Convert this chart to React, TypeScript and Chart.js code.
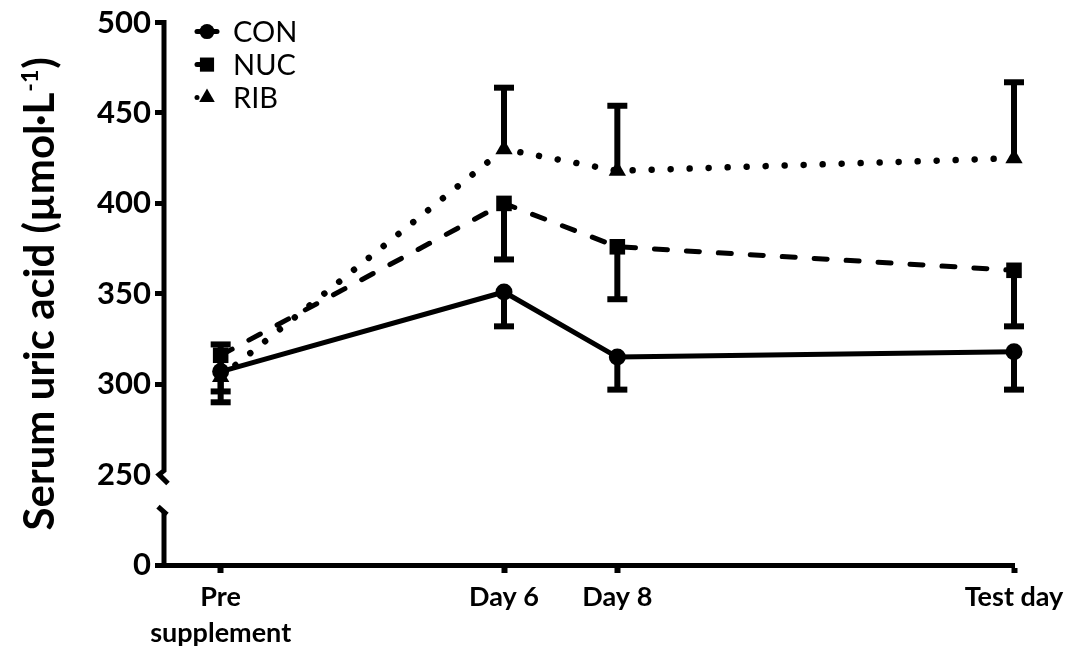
import React, { useEffect, useRef } from 'react';
import { Chart, registerables } from 'chart.js';

Chart.register(...registerables);

// Sampling days (x positions on a day scale) and their axis labels
const days = [1, 6, 8, 15];
const dayLabels: string[][] = [['Pre', 'supplement'], ['Day 6'], ['Day 8'], ['Test day']];

// Serum uric acid, mean and SEM per group
const groupNames = ['CON', 'NUC', 'RIB'];
const conMean = [307, 351, 315, 318];
const conSem = [17, 19, 18, 21];
const nucMean = [316, 400, 376, 363];
const nucSem = [20, 31, 29, 31];
const ribMean = [304, 430, 418, 425];
const ribSem = [18, 34, 36, 42];

// The y axis is broken below 250: the short bottom segment stands for zero
const yTickValues = [200, 250, 300, 350, 400, 450, 500];
const yTickLabels = ['0', '250', '300', '350', '400', '450', '500'];

const yTitleMain = 'Serum uric acid (µmol·L';
const yTitleSup = '-1';
const yTitleEnd = ')';

const FONT = 'Lato, "Open Sans", "DejaVu Sans", sans-serif';

type SeriesStyle = {
  dash: number[];
  legendDash: number[];
  width: number;
  point: 'circle' | 'rect' | 'triangle';
  radius: number;
  legendRadius: number;
  errDir: number;
};

const seriesStyles: SeriesStyle[] = [
  { dash: [], legendDash: [], width: 5, point: 'circle', radius: 8.5, legendRadius: 7.5, errDir: -1 },
  { dash: [13, 19], legendDash: [4, 40], width: 5, point: 'rect', radius: 11, legendRadius: 10, errDir: -1 },
  { dash: [0.01, 19], legendDash: [0.01, 20], width: 6.5, point: 'triangle', radius: 10, legendRadius: 9, errDir: 1 },
];

const means = [conMean, nucMean, ribMean];
const sems = [conSem, nucSem, ribSem];

function drawMarker(ctx: CanvasRenderingContext2D, kind: string, x: number, y: number, r: number) {
  ctx.beginPath();
  if (kind === 'circle') {
    ctx.arc(x, y, r, 0, Math.PI * 2);
  } else if (kind === 'rect') {
    const h = r * Math.SQRT1_2;
    ctx.rect(x - h, y - h, 2 * h, 2 * h);
  } else {
    ctx.moveTo(x, y - r);
    ctx.lineTo(x + r * 0.866, y + r * 0.5);
    ctx.lineTo(x - r * 0.866, y + r * 0.5);
    ctx.closePath();
  }
  ctx.fill();
}

// One-sided SEM bars: RIB upward, CON and NUC downward
const errorBarsPlugin = {
  id: 'errorBars',
  beforeDatasetsDraw(chart: any) {
    const { ctx } = chart;
    const xs = chart.scales.x;
    const ys = chart.scales.y;
    ctx.save();
    ctx.strokeStyle = '#000';
    ctx.lineCap = 'butt';
    means.forEach((m, i) => {
      const dir = seriesStyles[i].errDir;
      m.forEach((v, j) => {
        const px = xs.getPixelForValue(days[j]);
        const y0 = ys.getPixelForValue(v);
        const y1 = ys.getPixelForValue(v + dir * sems[i][j]);
        ctx.lineWidth = 6;
        ctx.beginPath();
        ctx.moveTo(px, y0);
        ctx.lineTo(px, y1);
        ctx.stroke();
        ctx.beginPath();
        ctx.moveTo(px - 10, y1);
        ctx.lineTo(px + 10, y1);
        ctx.stroke();
      });
    });
    ctx.restore();
  },
};

// Broken y axis line, in-plot legend and the rotated axis title
const decorPlugin = {
  id: 'decor',
  afterDraw(chart: any) {
    const { ctx, chartArea } = chart;
    const ys = chart.scales.y;
    const ax = chartArea.left;
    const yTop = ys.getPixelForValue(500);
    const yBreak = ys.getPixelForValue(250);
    const yZero = ys.getPixelForValue(200);

    ctx.save();
    ctx.strokeStyle = '#000';
    ctx.lineWidth = 5;
    ctx.lineJoin = 'miter';
    ctx.lineCap = 'butt';
    // upper segment ending in a break hook
    ctx.beginPath();
    ctx.moveTo(ax, yTop - 2.5);
    ctx.lineTo(ax, yBreak - 4);
    ctx.lineTo(ax - 5, yBreak);
    ctx.lineTo(ax + 4, yBreak + 9);
    ctx.stroke();
    // lower segment starting with its hook
    ctx.beginPath();
    ctx.moveTo(ax - 6, yBreak + 32);
    ctx.lineTo(ax + 3, yBreak + 40);
    ctx.stroke();
    ctx.beginPath();
    ctx.moveTo(ax, yBreak + 37);
    ctx.lineTo(ax, yZero + 2.5);
    ctx.stroke();

    // legend
    ctx.fillStyle = '#000';
    ctx.font = `29px ${FONT}`;
    ctx.textBaseline = 'middle';
    ctx.textAlign = 'left';
    groupNames.forEach((name, i) => {
      const st = seriesStyles[i];
      const cy = chartArea.top + 9 + i * 33;
      const mx = ax + 43;
      ctx.save();
      ctx.lineWidth = 5;
      ctx.lineCap = 'round';
      ctx.setLineDash(st.legendDash);
      ctx.beginPath();
      ctx.moveTo(mx - 10, cy);
      ctx.lineTo(mx + 10, cy);
      ctx.stroke();
      ctx.restore();
      drawMarker(ctx, st.point, mx, cy, st.legendRadius);
      ctx.fillText(name, ax + 69, cy + 1);
    });

    // y axis title with superscript
    const cy = (chartArea.top + chartArea.bottom) / 2;
    ctx.translate(54, cy);
    ctx.rotate(-Math.PI / 2);
    ctx.textBaseline = 'alphabetic';
    const mainFont = `bold 42px ${FONT}`;
    const supFont = `bold 23px ${FONT}`;
    ctx.font = mainFont;
    const w1 = ctx.measureText(yTitleMain).width;
    const w3 = ctx.measureText(yTitleEnd).width;
    ctx.font = supFont;
    const w2 = ctx.measureText(yTitleSup).width;
    const start = -(w1 + w2 + w3 + 2) / 2;
    ctx.font = mainFont;
    ctx.fillText(yTitleMain, start, 0);
    ctx.font = supFont;
    ctx.fillText(yTitleSup, start + w1 + 1, -16);
    ctx.font = mainFont;
    ctx.fillText(yTitleEnd, start + w1 + w2 + 2, 0);
    ctx.restore();
  },
};

export default function App() {
  const canvasRef = useRef<HTMLCanvasElement | null>(null);

  useEffect(() => {
    const canvas = canvasRef.current;
    if (!canvas) return;

    const datasets = groupNames.map((name, i) => {
      const st = seriesStyles[i];
      return {
        label: name,
        data: means[i].map((v, j) => ({ x: days[j], y: v })),
        borderColor: '#000',
        backgroundColor: '#000',
        borderWidth: st.width,
        borderDash: st.dash,
        borderCapStyle: 'round' as const,
        borderJoinStyle: 'round' as const,
        tension: 0,
        clip: false,
        pointStyle: st.point,
        pointRadius: st.radius,
        pointBackgroundColor: '#000',
        pointBorderColor: '#000',
        pointBorderWidth: 0,
        fill: false,
      };
    });

    const chart = new Chart(canvas, {
      type: 'line',
      data: { datasets },
      options: {
        responsive: false,
        animation: false,
        events: [],
        layout: { padding: { top: 22, right: 58, left: 0, bottom: 0 } },
        plugins: {
          legend: { display: false },
          tooltip: { enabled: false },
        },
        scales: {
          x: {
            type: 'linear',
            min: 0,
            max: 15,
            afterBuildTicks: (s: any) => {
              s.ticks = days.map((v) => ({ value: v }));
            },
            afterFit: (s: any) => {
              s.height = 89;
            },
            ticks: {
              autoSkip: false,
              maxRotation: 0,
              color: '#000',
              padding: 6,
              font: { family: FONT, size: 27, weight: 'bold', lineHeight: 1.33 },
              callback: (v: any) => {
                const i = days.indexOf(Number(v));
                return i >= 0 ? dayLabels[i] : '';
              },
            },
            grid: {
              drawOnChartArea: false,
              drawTicks: true,
              tickLength: 8,
              tickWidth: 6,
              tickColor: '#000',
            },
            border: { display: true, color: '#000', width: 5 },
          },
          y: {
            type: 'linear',
            min: 200,
            max: 500,
            afterBuildTicks: (s: any) => {
              s.ticks = yTickValues.map((v) => ({ value: v }));
            },
            afterFit: (s: any) => {
              s.width = 164;
            },
            ticks: {
              color: '#000',
              padding: 4,
              font: { family: FONT, size: 31, weight: 'bold' },
              callback: (v: any) => {
                const i = yTickValues.indexOf(Number(v));
                return i >= 0 ? yTickLabels[i] : '';
              },
            },
            grid: {
              drawOnChartArea: false,
              drawTicks: true,
              tickLength: 9,
              tickWidth: 5,
              tickColor: (c: any) => (c.tick && c.tick.value === 250 ? 'rgba(0,0,0,0)' : '#000'),
            },
            border: { display: false },
          },
        },
      } as any,
      plugins: [errorBarsPlugin, decorPlugin],
    });

    return () => chart.destroy();
  }, []);

  return (
    <div style={{ position: 'fixed', left: 0, top: 0, width: 1072, height: 654, background: '#fff' }}>
      <canvas ref={canvasRef} width={1072} height={654} style={{ display: 'block' }} />
    </div>
  );
}
